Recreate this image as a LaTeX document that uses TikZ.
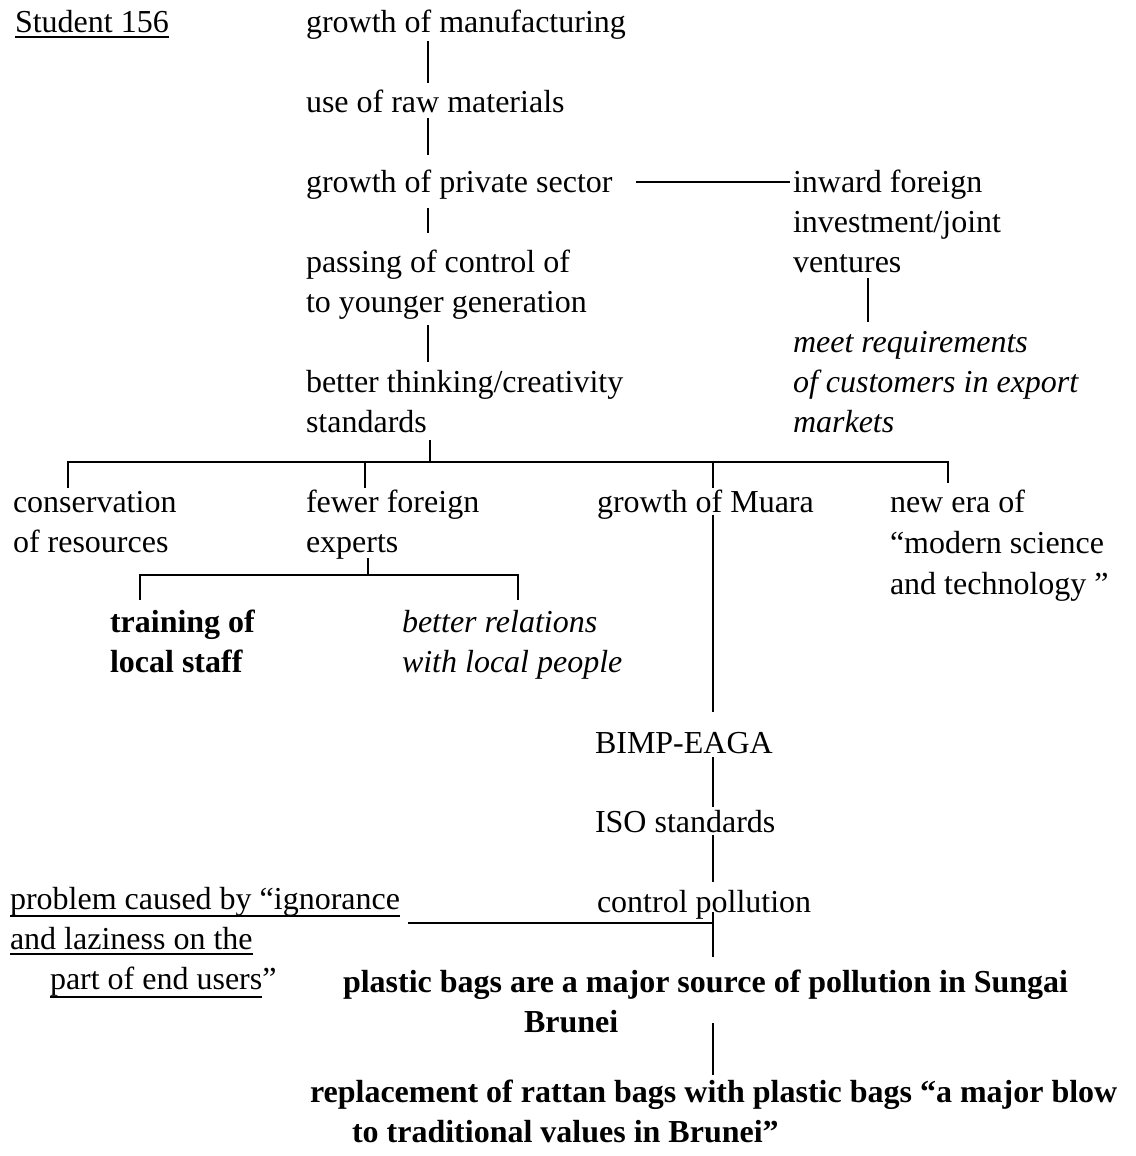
\documentclass[tikz,border=0pt]{standalone}
\usepackage{fontspec}
\setmainfont{Liberation Serif}
\usetikzlibrary{calc}
% underline with a fixed drop below the baseline
\newcommand\ulx[2][-9pt]{\setbox0\hbox{#2}\rlap{\rule[#1]{\wd0}{2pt}}\box0}
\begin{document}
\begin{tikzpicture}[x=1pt,y=-1pt,
  every node/.style={inner sep=0pt,outer sep=0pt,anchor=base west,align=left,
    font=\fontsize{32}{40}\selectfont},
  link/.style={line width=2.8pt,line cap=butt}]
\fill[white] (0,0) rectangle (1135,1156);
\useasboundingbox (0,0) rectangle (1135,1156);

% column positions of the connectors
\coordinate (ca) at (428,0);
\coordinate (cb) at (430,462);
\coordinate (cv) at (868,0);
\coordinate (barL) at (68,462);
\coordinate (barF) at (365,462);
\coordinate (barM) at (713,462);
\coordinate (barR) at (948,462);
\coordinate (subC) at (368,575);
\coordinate (subL) at (140,575);
\coordinate (subR) at (518,575);
\coordinate (pj) at (713,923);

% texts (multi-line nodes sit on the baseline of their last line)
\node (stu) at (15,33) {\ulx[-5.5pt]{Student 156}};
\node (gm) at (306,33) {growth of manufacturing};
\node (raw) at (306,112) {use of raw materials};
\node (priv) at (306,192) {growth of private sector};
\node (pass) at (306,312) {passing of control of\\to younger generation};
\node (think) at (306,432) {better thinking/creativity\\standards};
\node (inward) at (793,272) {inward foreign\\investment/joint\\ventures};
\node[font=\fontsize{32}{40}\selectfont\itshape] (meet) at (793,432)
  {meet requirements\\of customers in export\\markets};
\node (cons) at (13,552) {conservation\\of resources};
\node (fewer) at (306,552) {fewer foreign\\experts};
\node (muara) at (597,512) {growth of Muara};
\node[font=\fontsize{32}{41}\selectfont] (newera) at (890,594)
  {new era of\\“modern science\\and technology ”};
\node[font=\fontsize{32}{40}\selectfont\bfseries] (train) at (110,672)
  {training of\\local staff};
\node[font=\fontsize{32}{40}\selectfont\itshape] (better) at (402,672)
  {better relations\\with local people};
\node (bimp) at (595,753) {BIMP-EAGA};
\node (iso) at (595,832) {ISO standards};
\node (ctrl) at (597,912) {control pollution};
\node (prob) at (10,989)
  {\ulx[-8pt]{problem caused by “ignorance}\\
   \ulx[-6pt]{and laziness on the}\\
   \hspace*{40pt}\ulx[-9pt]{part of end users}”};
\node[font=\fontsize{32}{40}\selectfont\bfseries] (plastic) at (343,1032)
  {plastic bags are a major source of pollution in Sungai\\
   \hspace*{181pt}Brunei};
\node[font=\fontsize{32}{40}\selectfont\bfseries] (repl) at (310,1142)
  {replacement of rattan bags with plastic bags “a major blow\\
   \hspace*{42pt}to traditional values in Brunei”};

% main chain
\draw[link] ([yshift=-8pt]gm.base -| ca) -- ([yshift=29pt]raw.base -| ca);
\draw[link] ([yshift=-6pt]raw.base -| ca) -- ([yshift=37pt]priv.base -| ca);
\draw[link] ([yshift=-16pt]priv.base -| ca) -- ([yshift=79pt]pass.base -| ca);
\draw[link] ([yshift=-13pt]pass.base -| ca) -- ([yshift=70pt]think.base -| ca);
\draw[link] ([xshift=23pt,yshift=10pt]priv.base east) -- ([xshift=-3pt,yshift=90pt]inward.base west);
\draw[link] ([yshift=-6pt]inward.base -| cv) -- ([yshift=110pt]meet.base -| cv);

% first branching
\draw[link] ([yshift=-8pt]think.base -| cb) -- (cb);
\draw[link] ([yshift=64pt]cons.base -| barL) -- (barL) -- (barR) -- ([yshift=111pt]newera.base -| barR);
\draw[link] (barF) -- ([yshift=64pt]fewer.base -| barF);
\draw[link] (barM) -- ([yshift=24pt]muara.base -| barM);

% second branching
\draw[link] ([yshift=-6pt]fewer.base -| subC) -- (subC);
\draw[link] ([yshift=72pt]train.base -| subL) -- (subL) -- (subR) -- ([yshift=72pt]better.base -| subR);

% Muara column
\draw[link] ([yshift=-3pt]muara.base -| barM) -- ([yshift=41pt]bimp.base -| barM);
\draw[link] ([yshift=-4pt]bimp.base -| barM) -- ([yshift=25pt]iso.base -| barM);
\draw[link] ([yshift=-3pt]iso.base -| barM) -- ([yshift=30pt]ctrl.base -| barM);
\draw[link] (ctrl.base -| barM) -- ([yshift=75pt]plastic.base -| barM);
\draw[link] (pj) -- ([xshift=8pt]pj -| prob.east);
\draw[link] ([yshift=9pt]plastic.base -| barM) -- ([yshift=67pt]repl.base -| barM);
\end{tikzpicture}
\end{document}
